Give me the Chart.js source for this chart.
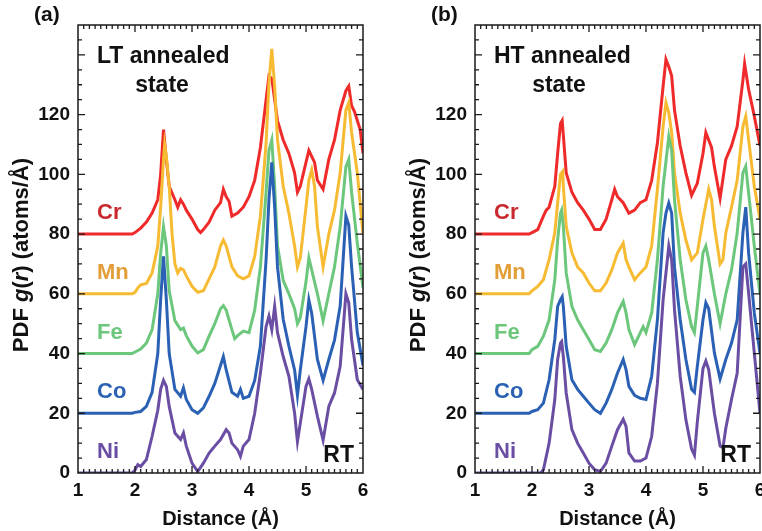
<!DOCTYPE html>
<html>
<head>
<meta charset="utf-8">
<script src="https://cdn.jsdelivr.net/npm/chart.js@4.4.1/dist/chart.umd.min.js"></script>
<style>
  html, body { margin: 0; padding: 0; background: #fff; }
  #wrap { position: relative; width: 762px; height: 531px; overflow: hidden; }
  #wrap canvas { position: absolute; top: 0; }
</style>
</head>
<body>
<div id="wrap">
  <canvas id="panelA" width="381" height="531" style="left:0"></canvas>
  <canvas id="panelB" width="381" height="531" style="left:381px"></canvas>
</div>
<script>
// PDF g(r) curves as [distance (Å), g(r) incl. offset]
const elements = ['Cr', 'Mn', 'Fe', 'Co', 'Ni'];
const offsets = [80, 60, 40, 20, 0];
const distanceTicks = [1, 2, 3, 4, 5, 6];
const gTickLabels = [0, 20, 40, 60, 80, 100, 120];

// (a) LT annealed
const ltCr = [[1,80],[1.95,80],[2.0,80.5],[2.1,82],[2.2,84],[2.3,87],[2.4,91.5],[2.45,100],[2.5,115],[2.55,105],[2.6,96],[2.7,91.5],[2.75,89],[2.8,91.5],[2.85,90],[2.9,88],[3.0,85],[3.1,81.5],[3.15,80.5],[3.2,81.5],[3.3,84],[3.4,88],[3.5,90.5],[3.55,95],[3.6,92.5],[3.65,91],[3.7,86],[3.8,87],[3.9,89],[4.0,92.5],[4.1,98],[4.2,109],[4.3,125],[4.35,133],[4.4,132],[4.45,125],[4.5,118],[4.6,111.5],[4.7,107],[4.8,100.5],[4.85,94],[4.9,96],[5.0,104],[5.05,108],[5.1,106],[5.15,104],[5.2,98],[5.3,95],[5.4,105],[5.5,111.5],[5.6,121.5],[5.7,128],[5.75,129.5],[5.8,123],[5.85,121],[5.9,118],[5.95,115],[6.0,107]];
const ltMn = [[1,60],[1.95,60],[2.0,60.5],[2.05,62],[2.1,63],[2.2,63.5],[2.3,67],[2.4,76],[2.45,89],[2.5,105],[2.52,110],[2.55,106],[2.6,96],[2.65,80],[2.7,70],[2.75,67],[2.8,68.5],[2.85,68],[2.9,66],[3.0,62.5],[3.1,60.5],[3.2,61],[3.3,65],[3.4,69],[3.5,76],[3.55,78],[3.6,76],[3.7,69],[3.8,66],[3.9,65],[4.0,66],[4.1,72.5],[4.2,86],[4.3,110.5],[4.35,130.5],[4.4,142],[4.45,129.5],[4.5,111.5],[4.6,96],[4.7,87],[4.8,76],[4.85,69],[4.9,72],[5.0,89],[5.05,98],[5.1,101.5],[5.15,96],[5.2,82.5],[5.3,69],[5.4,80],[5.5,88],[5.6,100.5],[5.7,121.5],[5.75,124],[5.8,114],[5.9,100.5],[6.0,80]];
const ltFe = [[1,40],[1.95,40],[2.0,40.5],[2.1,41.5],[2.2,43.5],[2.3,48],[2.4,60],[2.45,73.5],[2.5,82.5],[2.55,76],[2.6,61],[2.7,51],[2.8,48],[2.85,48.5],[2.9,46],[3.0,42.5],[3.1,40.2],[3.2,41.3],[3.3,45.8],[3.4,50],[3.5,55],[3.55,56],[3.6,54.5],[3.7,48],[3.75,45],[3.8,46],[3.9,47.5],[4.0,47],[4.1,54.5],[4.2,69],[4.3,94],[4.35,108],[4.4,111.5],[4.45,96],[4.5,76],[4.6,64.5],[4.7,60],[4.8,55],[4.85,50],[4.9,52],[5.0,64],[5.05,72],[5.1,68],[5.2,60],[5.3,51],[5.4,60],[5.5,69],[5.6,82.5],[5.7,102.5],[5.75,105],[5.8,94],[5.9,77],[6.0,62]];
const ltCo = [[1,20],[1.95,20],[2.0,20.3],[2.1,20.6],[2.2,22.3],[2.3,27],[2.4,40],[2.45,58],[2.5,72.5],[2.55,58],[2.6,40],[2.7,28],[2.8,25.7],[2.85,28.5],[2.9,24.6],[3.0,21.2],[3.1,20],[3.2,21.8],[3.3,25.7],[3.4,30],[3.5,36],[3.55,39],[3.6,34.5],[3.7,27],[3.8,25.7],[3.85,28],[3.9,25],[4.0,25.7],[4.1,31],[4.2,42.5],[4.3,71.5],[4.35,91.5],[4.4,104],[4.45,89],[4.5,69],[4.6,51.5],[4.7,42.5],[4.8,34.5],[4.85,26],[4.9,34.5],[5.0,49],[5.05,58],[5.1,53.5],[5.2,38],[5.3,31],[5.4,38],[5.5,44.5],[5.6,56],[5.7,86],[5.75,83],[5.8,69],[5.9,47],[6.0,36]];
const ltNi = [[1,0],[1.95,0],[2.0,1],[2.05,2.8],[2.1,2.2],[2.2,4.5],[2.3,12.3],[2.4,21],[2.45,28],[2.5,31],[2.55,29],[2.6,22.3],[2.7,13.4],[2.8,11.2],[2.85,13.4],[2.9,9],[3.0,3.3],[3.1,0.5],[3.2,3.3],[3.3,6.7],[3.4,9],[3.5,11.2],[3.6,14.5],[3.65,13.4],[3.7,10],[3.8,7.8],[3.85,5.6],[3.9,9],[4.0,11.2],[4.1,20],[4.2,33.5],[4.3,49],[4.35,52.5],[4.4,48],[4.45,55.8],[4.5,47],[4.6,39],[4.7,32.4],[4.8,20],[4.85,10.5],[4.9,16.7],[5.0,29],[5.05,31.5],[5.1,28],[5.2,19],[5.3,11],[5.4,22.3],[5.5,26.8],[5.6,35.7],[5.7,60],[5.75,57],[5.8,44.7],[5.9,31.2],[6.0,28]];

// (b) HT annealed
const htCr = [[1,80],[1.95,80],[2.0,80.5],[2.1,81.5],[2.2,86],[2.25,88],[2.3,89],[2.4,96],[2.45,107],[2.5,117],[2.53,118],[2.55,113],[2.6,100.5],[2.7,94],[2.8,90.5],[2.9,88],[3.0,85],[3.1,81.5],[3.2,81.5],[3.3,85],[3.4,91.5],[3.45,95],[3.5,92.5],[3.6,90.5],[3.7,87],[3.8,88],[3.9,90.5],[4.0,91.5],[4.1,98],[4.2,110.5],[4.3,129.5],[4.35,138.5],[4.4,136],[4.45,133],[4.5,121.5],[4.6,109.5],[4.7,100.5],[4.8,93],[4.9,97],[5.0,107],[5.05,114],[5.1,111.5],[5.15,109],[5.2,102.5],[5.3,92],[5.4,105],[5.5,109.5],[5.6,116],[5.7,131.5],[5.73,137],[5.8,128.5],[5.9,119.5],[6.0,109.5]];
const htMn = [[1,60],[1.95,60],[2.0,61],[2.1,62.5],[2.2,64.7],[2.3,71.4],[2.4,80.4],[2.45,90.4],[2.5,100],[2.54,101],[2.55,96],[2.6,82.6],[2.7,73.7],[2.8,69],[2.9,67],[3.0,63.6],[3.1,61],[3.2,61],[3.3,63.6],[3.4,68],[3.5,73.7],[3.6,77],[3.65,71.4],[3.7,69],[3.8,64.7],[3.9,67],[4.0,69],[4.1,76],[4.2,95],[4.3,116],[4.35,124],[4.4,120.6],[4.45,114],[4.5,100.5],[4.6,87],[4.7,78],[4.8,71.4],[4.9,73.7],[5.0,85],[5.1,95],[5.15,91.5],[5.2,82.6],[5.3,70],[5.35,71.4],[5.4,80.4],[5.5,89],[5.6,98],[5.7,116],[5.75,119.4],[5.8,111.6],[5.9,96],[6.0,85]];
const htFe = [[1,40],[1.95,40],[2.0,41.3],[2.1,42.4],[2.2,45.8],[2.3,51.3],[2.4,64.7],[2.45,78],[2.5,87],[2.52,88],[2.55,82.6],[2.6,67],[2.7,55.8],[2.8,51.3],[2.9,48],[3.0,44.7],[3.1,41.3],[3.2,40.7],[3.3,43.5],[3.4,48],[3.5,53.6],[3.6,57.5],[3.65,53.6],[3.7,48],[3.8,43],[3.9,47],[3.95,49],[4.0,47],[4.1,53.6],[4.2,71.4],[4.3,96],[4.4,112.7],[4.45,108],[4.5,91.5],[4.6,71.4],[4.7,58],[4.8,49],[4.85,47],[4.9,55.8],[5.0,73.7],[5.05,76],[5.1,71.4],[5.2,60],[5.3,50],[5.4,60],[5.5,68],[5.6,80.4],[5.7,100.5],[5.75,102.7],[5.8,93.8],[5.9,76],[6.0,60]];
const htCo = [[1,20],[1.95,20],[2.0,20.6],[2.1,21.2],[2.2,23.4],[2.3,31.2],[2.4,44.7],[2.45,55.8],[2.5,58],[2.53,59],[2.55,55.8],[2.6,42.4],[2.7,31.2],[2.8,28],[2.9,25.7],[3.0,23.4],[3.1,21.2],[3.2,20],[3.3,23.4],[3.4,28],[3.5,33.5],[3.6,38],[3.65,34.6],[3.7,29],[3.8,26],[3.9,25],[4.0,24.6],[4.1,32.4],[4.2,51.3],[4.3,80.4],[4.35,87],[4.4,90.4],[4.45,87],[4.5,69],[4.6,51.3],[4.7,38],[4.8,28],[4.85,27],[4.9,35.7],[5.0,51.3],[5.05,57],[5.1,55],[5.2,40.2],[5.3,31.5],[5.4,38],[5.5,43.5],[5.6,51.3],[5.7,80.4],[5.75,89],[5.8,73.7],[5.9,53.6],[6.0,40]];
const htNi = [[1,0],[2.15,0],[2.2,1.1],[2.3,10],[2.4,24.6],[2.45,38],[2.5,43.5],[2.52,44],[2.55,39],[2.6,26.8],[2.7,14.5],[2.8,10],[2.9,6.7],[3.0,3.3],[3.1,1.1],[3.2,0.5],[3.3,3.3],[3.4,9],[3.5,14.5],[3.6,18],[3.65,15.6],[3.7,6.7],[3.8,4],[3.9,4],[4.0,5],[4.1,12.3],[4.2,30],[4.3,58],[4.4,76],[4.45,71.4],[4.5,54.7],[4.6,32.4],[4.7,17.8],[4.8,8],[4.85,6],[4.9,17],[5.0,35],[5.05,37.5],[5.1,34.6],[5.2,20],[5.3,9],[5.35,8.5],[5.4,15],[5.5,24.6],[5.6,33.5],[5.7,69],[5.75,70],[5.8,60.3],[5.9,40.2],[6.0,20]];

const lineColors = ['#ee2a2a', '#f6bb33', '#6cc77c', '#2b61b4', '#6a4ea3'];
const labelColors = ['#c9292e', '#e39e38', '#6cc77c', '#2b61b4', '#6a4ea3'];
const FONT = '"Liberation Sans", Arial, Helvetica, sans-serif';

function drawYTitle(ctx, cx, cy) {
  const parts = [
    ['PDF ', 'bold'], ['g', 'italic bold'], ['(', 'bold'], ['r', 'italic bold'], [') (atoms/Å)', 'bold']
  ];
  ctx.save();
  ctx.translate(cx, cy);
  ctx.rotate(-Math.PI / 2);
  ctx.textBaseline = 'middle';
  ctx.fillStyle = '#111';
  let total = 0;
  parts.forEach(function (p) { ctx.font = p[1] + ' 22px ' + FONT; total += ctx.measureText(p[0]).width; });
  let x = -total / 2;
  parts.forEach(function (p) {
    ctx.font = p[1] + ' 22px ' + FONT;
    ctx.textAlign = 'left';
    ctx.fillText(p[0], x, 0);
    x += ctx.measureText(p[0]).width;
  });
  ctx.restore();
}

function panelDecor(tag, stateLine) {
  return {
    id: 'panelDecor',
    afterDraw(chart) {
      const { ctx, chartArea: a, scales } = chart;
      const x = scales.x, y = scales.y;
      ctx.save();
      ctx.strokeStyle = '#1a1a1a';
      ctx.lineWidth = 1.5;
      ctx.strokeRect(a.left, a.top, a.right - a.left, a.bottom - a.top);

      // inward ticks on all four sides
      ctx.lineWidth = 1.3;
      ctx.beginPath();
      for (let v = 5; v < 150; v += 5) {
        const py = y.getPixelForValue(v);
        const len = v % 20 === 0 ? 7 : 4;
        ctx.moveTo(a.left, py); ctx.lineTo(a.left + len, py);
        ctx.moveTo(a.right, py); ctx.lineTo(a.right - len, py);
      }
      for (let i = 11; i < 60; i++) {
        const px = x.getPixelForValue(i / 10);
        const len = i % 10 === 0 ? 7 : 4;
        ctx.moveTo(px, a.bottom); ctx.lineTo(px, a.bottom - len);
        ctx.moveTo(px, a.top); ctx.lineTo(px, a.top + len);
      }
      ctx.stroke();

      // element labels
      ctx.textBaseline = 'middle';
      ctx.textAlign = 'left';
      ctx.font = 'bold 22px ' + FONT;
      elements.forEach(function (el, i) {
        ctx.fillStyle = labelColors[i];
        ctx.fillText(el, a.left + 19, y.getPixelForValue(offsets[i] + 7));
      });

      ctx.fillStyle = '#111';
      ctx.font = 'bold 23px ' + FONT;
      ctx.fillText(stateLine, a.left + 19, 57);
      ctx.textAlign = 'center';
      ctx.fillText('state', a.left + 84, 86);
      ctx.textAlign = 'right';
      ctx.fillText('RT', a.right - 9, 456);
      ctx.textAlign = 'left';
      ctx.font = 'bold 21px ' + FONT;
      ctx.fillText(tag, a.left - 44, 15);

      drawYTitle(ctx, a.left - 56, 255);
      ctx.restore();
    }
  };
}

function buildPanel(id, series, tag, stateLine, yWidth, padRight) {
  const canvas = document.getElementById(id);
  const datasets = series.map(function (pts, i) {
    return {
      label: elements[i],
      data: pts.map(function (p) { return { x: p[0], y: p[1] }; }),
      borderColor: lineColors[i],
      borderWidth: 3,
      pointRadius: 0,
      tension: 0,
      order: series.length - i
    };
  });
  const tickFont = { family: FONT, size: 19, weight: 'bold' };
  return new Chart(canvas, {
    type: 'line',
    data: { datasets },
    options: {
      responsive: false,
      animation: false,
      devicePixelRatio: 1,
      layout: { padding: { left: 0, top: 25, right: padRight, bottom: 0 } },
      plugins: { legend: { display: false }, tooltip: { enabled: false } },
      scales: {
        x: {
          type: 'linear',
          min: 1,
          max: 6,
          afterBuildTicks(scale) {
            scale.ticks = distanceTicks.map(function (v) { return { value: v }; });
          },
          afterFit(scale) {
            scale.height = 58;
            scale.paddingLeft = 0;
            scale.paddingRight = 0;
          },
          grid: { display: false, drawTicks: false },
          border: { display: false },
          ticks: { color: '#111', font: tickFont, padding: 6, maxRotation: 0 },
          title: {
            display: true,
            text: 'Distance (Å)',
            color: '#111',
            font: { family: FONT, size: 20, weight: 'bold' },
            padding: { top: 0, bottom: 0 }
          }
        },
        y: {
          type: 'linear',
          min: 0,
          max: 150,
          afterBuildTicks(scale) {
            scale.ticks = gTickLabels.map(function (v) { return { value: v }; });
          },
          afterFit(scale) {
            scale.width = yWidth;
            scale.paddingTop = 0;
            scale.paddingBottom = 0;
          },
          grid: { display: false, drawTicks: false },
          border: { display: false },
          ticks: { color: '#111', font: tickFont, padding: 8 }
        }
      }
    },
    plugins: [panelDecor(tag, stateLine)]
  });
}

buildPanel('panelA', [ltCr, ltMn, ltFe, ltCo, ltNi], '(a)', 'LT annealed', 78, 18);
buildPanel('panelB', [htCr, htMn, htFe, htCo, htNi], '(b)', 'HT annealed', 94, 2);
</script>
</body>
</html>
